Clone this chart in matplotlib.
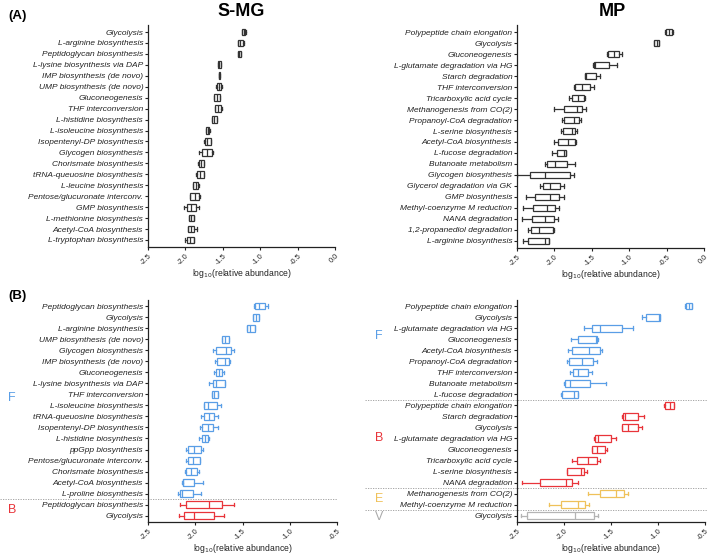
import matplotlib
matplotlib.use('Agg')
import matplotlib.pyplot as plt
from matplotlib.transforms import blended_transform_factory

plt.rcParams['font.family'] = ['Liberation Sans', 'DejaVu Sans']

# ---------------- data ----------------
# Panel A, S-MG
a1_labels = ["Glycolysis", "L-arginine biosynthesis", "Peptidoglycan biosynthesis",
             "L-lysine biosynthesis via DAP", "IMP biosynthesis (de novo)", "UMP biosynthesis (de novo)",
             "Gluconeogenesis", "THF interconversion", "L-histidine biosynthesis",
             "L-isoleucine biosynthesis", "Isopentenyl-DP biosynthesis", "Glycogen biosynthesis",
             "Chorismate biosynthesis", "tRNA-queuosine biosynthesis", "L-leucine biosynthesis",
             "Pentose/glucuronate interconv.", "GMP biosynthesis", "L-methionine biosynthesis",
             "Acetyl-CoA biosynthesis", "L-tryptophan biosynthesis"]
a1_lo  = [-1.25, -1.30, -1.30, -1.57, -1.553, -1.593, -1.624, -1.603, -1.646, -1.731, -1.749, -1.82, -1.833, -1.856, -1.90, -1.94, -2.02, -1.958, -1.971, -2.007]
a1_q1  = [-1.242, -1.291, -1.296, -1.562, -1.553, -1.584, -1.616, -1.598, -1.642, -1.727, -1.744, -1.784, -1.816, -1.842, -1.896, -1.936, -1.976, -1.953, -1.962, -1.98]
a1_med = [-1.22, -1.269, -1.28, -1.545, -1.547, -1.553, -1.58, -1.562, -1.616, -1.704, -1.709, -1.709, -1.789, -1.811, -1.864, -1.869, -1.922, -1.922, -1.922, -1.944]
a1_q3  = [-1.198, -1.229, -1.26, -1.527, -1.54, -1.518, -1.54, -1.518, -1.576, -1.678, -1.664, -1.642, -1.758, -1.753, -1.829, -1.82, -1.864, -1.887, -1.882, -1.891]
a1_hi  = [-1.19, -1.22, -1.26, -1.52, -1.54, -1.509, -1.531, -1.509, -1.571, -1.673, -1.66, -1.629, -1.753, -1.749, -1.824, -1.807, -1.824, -1.882, -1.847, -1.887]

# Panel A, MP
a2_labels = ["Polypeptide chain elongation", "Glycolysis", "Gluconeogenesis",
             "L-glutamate degradation via HG", "Starch degradation", "THF interconversion",
             "Tricarboxylic acid cycle", "Methanogenesis from CO(2)", "Propanoyl-CoA degradation",
             "L-serine biosynthesis", "Acetyl-CoA biosynthesis", "L-fucose degradation",
             "Butanoate metabolism", "Glycogen biosynthesis", "Glycerol degradation via GK",
             "GMP biosynthesis", "Methyl-coenzyme M reduction", "NANA degradation",
             "1,2-propanediol degradation", "L-arginine biosynthesis"]
a2_lo  = [-0.527, -0.668, -1.292, -1.478, -1.597, -1.739, -1.801, -2.00, -1.903, -1.912, -2.009, -2.035, -2.119, -2.50, -2.19, -2.376, -2.42, -2.429, -2.354, -2.42]
a2_q1  = [-0.504, -0.664, -1.279, -1.469, -1.588, -1.73, -1.77, -1.872, -1.876, -1.885, -1.951, -1.965, -2.093, -2.323, -2.155, -2.261, -2.288, -2.296, -2.31, -2.354]
a2_med = [-0.469, -0.633, -1.199, -1.46, -1.58, -1.637, -1.69, -1.704, -1.739, -1.761, -1.819, -1.867, -1.987, -2.124, -2.053, -2.062, -2.097, -2.124, -2.212, -2.124]
a2_q3  = [-0.429, -0.602, -1.133, -1.274, -1.447, -1.518, -1.606, -1.633, -1.677, -1.73, -1.726, -1.85, -1.836, -1.788, -1.929, -1.934, -1.991, -2.004, -2.018, -2.075]
a2_hi  = [-0.42, -0.598, -1.102, -1.159, -1.389, -1.465, -1.593, -1.584, -1.642, -1.699, -1.717, -1.845, -1.726, -1.743, -1.876, -1.876, -1.938, -1.951, -2.009, -2.066]

# Panel B, S-MG
b1_labels = ["Peptidoglycan biosynthesis", "Glycolysis", "L-arginine biosynthesis",
             "UMP biosynthesis (de novo)", "Glycogen biosynthesis", "IMP biosynthesis (de novo)",
             "Gluconeogenesis", "L-lysine biosynthesis via DAP", "THF interconversion",
             "L-isoleucine biosynthesis", "tRNA-queuosine biosynthesis", "Isopentenyl-DP biosynthesis",
             "L-histidine biosynthesis", "ppGpp biosynthesis", "Pentose/glucuronate interconv.",
             "Chorismate biosynthesis", "Acetyl-CoA biosynthesis", "L-proline biosynthesis",
             "Peptidoglycan biosynthesis", "Glycolysis"]
b1_group = ["F"] * 18 + ["B"] * 2
b1_lo  = [-1.374, -1.392, -1.456, -1.718, -1.813, -1.792, -1.806, -1.852, -1.827, -1.912, -1.937, -1.948, -1.965, -2.096, -2.096, -2.111, -2.139, -2.178, -2.157, -2.171]
b1_q1  = [-1.367, -1.385, -1.452, -1.714, -1.778, -1.767, -1.785, -1.813, -1.824, -1.905, -1.909, -1.927, -1.927, -2.079, -2.079, -2.10, -2.132, -2.164, -2.096, -2.118]
b1_med = [-1.325, -1.36, -1.417, -1.682, -1.675, -1.689, -1.753, -1.781, -1.799, -1.863, -1.852, -1.866, -1.898, -2.008, -2.022, -2.05, -2.125, -2.142, -1.859, -2.015]
b1_q3  = [-1.261, -1.325, -1.371, -1.643, -1.626, -1.647, -1.718, -1.689, -1.764, -1.767, -1.803, -1.81, -1.866, -1.937, -1.951, -1.983, -2.008, -2.019, -1.718, -1.803]
b1_hi  = [-1.229, -1.321, -1.367, -1.64, -1.587, -1.629, -1.70, -1.689, -1.76, -1.732, -1.76, -1.76, -1.859, -1.923, -1.948, -1.965, -1.923, -1.944, -1.587, -1.696]

# Panel B, MP
b2_labels = ["Polypeptide chain elongation", "Glycolysis", "L-glutamate degradation via HG",
             "Gluconeogenesis", "Acetyl-CoA biosynthesis", "Propanoyl-CoA degradation",
             "THF interconversion", "Butanoate metabolism", "L-fucose degradation",
             "Polypeptide chain elongation", "Starch degradation", "Glycolysis",
             "L-glutamate degradation via HG", "Gluconeogenesis", "Tricarboxylic acid cycle",
             "L-serine biosynthesis", "NANA degradation",
             "Methanogenesis from CO(2)", "Methyl-coenzyme M reduction", "Glycolysis"]
b2_group = ["F"] * 9 + ["B"] * 8 + ["E"] * 2 + ["V"]
b2_lo  = [-0.709, -1.169, -1.789, -1.93, -1.958, -1.969, -1.937, -2.001, -2.036, -0.939, -1.388, -1.385, -1.682, -1.707, -1.912, -1.973, -2.447, -1.746, -2.16, -2.461]
b2_q1  = [-0.702, -1.127, -1.704, -1.852, -1.916, -1.944, -1.905, -1.987, -2.019, -0.921, -1.374, -1.385, -1.675, -1.70, -1.859, -1.969, -2.252, -1.619, -2.029, -2.39]
b2_med = [-0.67, -0.989, -1.622, -1.658, -1.735, -1.813, -1.852, -1.941, -1.895, -0.872, -1.35, -1.318, -1.64, -1.65, -1.746, -1.82, -1.976, -1.442, -1.852, -1.884]
b2_q3  = [-0.642, -0.978, -1.388, -1.647, -1.622, -1.696, -1.742, -1.721, -1.852, -0.833, -1.208, -1.215, -1.502, -1.562, -1.65, -1.785, -1.912, -1.36, -1.774, -1.682]
b2_hi  = [-0.638, -0.978, -1.261, -1.643, -1.597, -1.647, -1.70, -1.558, -1.849, -0.829, -1.151, -1.169, -1.452, -1.544, -1.622, -1.757, -1.852, -1.318, -1.732, -1.64]

group_colors = {"F": "#5a9ee6", "B": "#e8343a", "E": "#efc15a", "V": "#b4b4b4", "A": "#333333"}

# ---------------- figure ----------------
W, H = 709, 555
fig = plt.figure(figsize=(W / 100, H / 100), dpi=100)


def axes_px(l, t, r, b):
    return fig.add_axes([l / W, 1 - b / H, (r - l) / W, (b - t) / H])


def draw(ax, labels, lo, q1, med, q3, hi, groups, xlim, xticks, ylim):
    n = len(labels)
    for i in range(n):
        c = group_colors[groups[i]]
        st = dict(whislo=lo[i], q1=q1[i], med=med[i], q3=q3[i], whishi=hi[i], fliers=[])
        ax.bxp([st], positions=[i + 1], orientation='horizontal', widths=0.62,
               capwidths=0.3, showfliers=False, patch_artist=True,
               boxprops=dict(facecolor='white', edgecolor=c, linewidth=0.9),
               medianprops=dict(color=c, linewidth=0.9),
               whiskerprops=dict(color=c, linewidth=0.9),
               capprops=dict(color=c, linewidth=0.9),
               manage_ticks=False)
    ax.set_yticks(range(1, n + 1))
    ax.set_yticklabels(labels, fontstyle='italic', fontsize=6.05, color='#222222')
    ax.set_ylim(*ylim)
    ax.set_xlim(*xlim)
    ax.set_xticks(xticks)
    ax.set_xticklabels([f"{v:.1f}" for v in xticks], rotation=45, ha='right',
                       rotation_mode='anchor', fontsize=5.3, color='#444444')
    for s in ['top', 'right']:
        ax.spines[s].set_visible(False)
    for s in ['left', 'bottom']:
        ax.spines[s].set_color('#222222')
        ax.spines[s].set_linewidth(0.9)
    ax.tick_params(axis='y', length=2.5, width=0.8, pad=1, colors='#222222')
    ax.tick_params(axis='x', length=2.5, width=0.8, pad=1.5, colors='#222222')
    ax.set_xlabel("log$_{10}$(relative abundance)", fontsize=6.2, color='#222222', labelpad=0.5)
    ax.set_facecolor('none')


axA1 = axes_px(148, 25, 335, 247)
draw(axA1, a1_labels, a1_lo, a1_q1, a1_med, a1_q3, a1_hi, ["A"] * 20,
     (-2.5, 0.0), [-2.5, -2.0, -1.5, -1.0, -0.5, 0.0], (20.64, 0.36))

axA2 = axes_px(517, 25, 704, 248)
draw(axA2, a2_labels, a2_lo, a2_q1, a2_med, a2_q3, a2_hi, ["A"] * 20,
     (-2.5, 0.0), [-2.5, -2.0, -1.5, -1.0, -0.5, 0.0], (20.64, 0.36))

axB1 = axes_px(148, 300, 337, 522)
draw(axB1, b1_labels, b1_lo, b1_q1, b1_med, b1_q3, b1_hi, b1_group,
     (-2.5, -0.5), [-2.5, -2.0, -1.5, -1.0, -0.5], (20.57, 0.45))

axB2 = axes_px(517, 300, 705, 522)
draw(axB2, b2_labels, b2_lo, b2_q1, b2_med, b2_q3, b2_hi, b2_group,
     (-2.5, -0.5), [-2.5, -2.0, -1.5, -1.0, -0.5], (20.57, 0.45))

# separators
tB1 = blended_transform_factory(fig.transFigure, axB1.transData)
axB1.plot([0 / W, 337 / W], [18.5, 18.5], transform=tB1, clip_on=False,
          color='#999999', lw=0.6, ls=(0, (1.5, 1.5)))
tB2 = blended_transform_factory(fig.transFigure, axB2.transData)
for yv in [9.5, 17.5, 19.5]:
    axB2.plot([365 / W, 707 / W], [yv, yv], transform=tB2, clip_on=False,
              color='#999999', lw=0.6, ls=(0, (1.5, 1.5)))

# group letters
def gtext(x_px, ax, yv, s, c):
    t = blended_transform_factory(fig.transFigure, ax.transData)
    ax.text(x_px / W, yv, s, transform=t, color=c, fontsize=9, ha='center', va='center')

gtext(12, axB1, 9.3, "F", group_colors["F"])
gtext(12, axB1, 19.5, "B", group_colors["B"])
gtext(379, axB2, 3.7, "F", group_colors["F"])
gtext(379, axB2, 13.0, "B", group_colors["B"])
gtext(379, axB2, 18.5, "E", group_colors["E"])
gtext(379, axB2, 20.1, "V", "#aaaaaa")

# titles and panel labels
fig.text(241 / W, 1 - 11 / H, "S-MG", fontsize=13, fontweight='bold', ha='center', va='center')
fig.text(612 / W, 1 - 11 / H, "MP", fontsize=13, fontweight='bold', ha='center', va='center')
fig.text(8 / W, 1 - 16 / H, "(A)", fontsize=9.5, fontweight='bold', ha='left', va='center')
fig.text(8 / W, 1 - 296 / H, "(B)", fontsize=9.5, fontweight='bold', ha='left', va='center')

fig.savefig("out.png", dpi=100)
